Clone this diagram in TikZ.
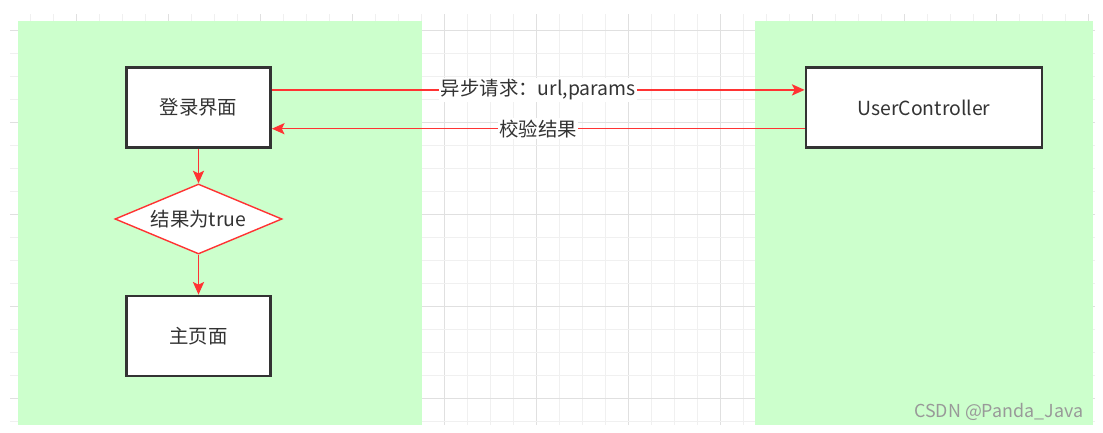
\documentclass[tikz,border=0pt]{standalone}
\usepackage{fontspec}
\setmainfont{Noto Sans CJK SC}
\usetikzlibrary{shapes.geometric,arrows.meta,positioning}
\definecolor{lgPanel}{HTML}{CCFFCC}
\definecolor{lgRed}{HTML}{FF3333}
\definecolor{lgInk}{HTML}{333333}
\definecolor{lgGrid}{HTML}{F0F0F0}
\definecolor{lgGridMajor}{HTML}{E0E0E0}
\tikzset{
    lgBox/.style={
        rectangle,
        draw=lgInk,
        fill=white,
        line width=2pt,
        minimum width=3.6cm,
        minimum height=2cm,
        text=lgInk,
        font=\fontsize{13.8}{16}\selectfont
    },
    lgDecision/.style={
        diamond,
        draw=lgRed,
        fill=white,
        line width=1pt,
        inner sep=0pt,
        aspect=2.39,
        minimum width=4.175cm,
        minimum height=1.75cm,
        text=lgInk,
        font=\fontsize{13.8}{16}\selectfont
    },
    % arrows and labels
    lgFlow/.style={-{Stealth[length=9pt,width=8pt,inset=2pt]}, draw=lgRed, line width=1pt},
    lgLabel/.style={fill=white, inner sep=1pt, text=lgInk, font=\fontsize{13.8}{16}\selectfont}
}
\begin{document}
\begin{tikzpicture}[x=0.025cm, y=-0.025cm]
    \useasboundingbox (0,0) rectangle (1103,433);
    % grid
    \begin{scope}
        \clip (10,14) rectangle (1095,425);
        \foreach \i in {-19,...,28} {
            \pgfmathtruncatemacro{\m}{mod(\i+40,4)}
            \ifnum\m=0 \def\gc{lgGridMajor}\else\def\gc{lgGrid}\fi
            \draw[\gc, line width=0.7pt] (444+23*\i,14) -- (444+23*\i,425);
        }
        \foreach \j in {-1,...,17} {
            \pgfmathtruncatemacro{\m}{mod(\j+40,4)}
            \ifnum\m=0 \def\gc{lgGridMajor}\else\def\gc{lgGrid}\fi
            \draw[\gc, line width=0.7pt] (10,30.3+23*\j) -- (1095,30.3+23*\j);
        }
    \end{scope}
    % panels
    \fill[lgPanel] (18,21) rectangle (422,425);
    \fill[lgPanel] (755,21) rectangle (1093,425);

    \node[lgBox] (login) at (198.5,107.5) {登录界面};
    \node[lgBox, minimum width=5.9cm] (ctrl) at (924,107.5) {UserController};
    \node[lgDecision] (check) at (198.5,219) {结果为true};
    \node[lgBox] (home) at (198.5,336) {主页面};

    \draw[lgFlow] ([yshift=0.44cm]login.east) -- ([yshift=0.44cm]ctrl.west)
        node[midway, lgLabel] {异步请求：url,params};
    \draw[lgFlow] ([yshift=-0.53cm]ctrl.west) -- ([yshift=-0.53cm]login.east)
        node[midway, lgLabel] {校验结果};
    \draw[lgFlow] (login) -- (check);
    \draw[lgFlow] (check) -- (home);

    \node[anchor=east, text=black!40, font=\fontsize{12.7}{14}\selectfont] (mark) at (1088,412) {CSDN @Panda\_Java};
\end{tikzpicture}
\end{document}
